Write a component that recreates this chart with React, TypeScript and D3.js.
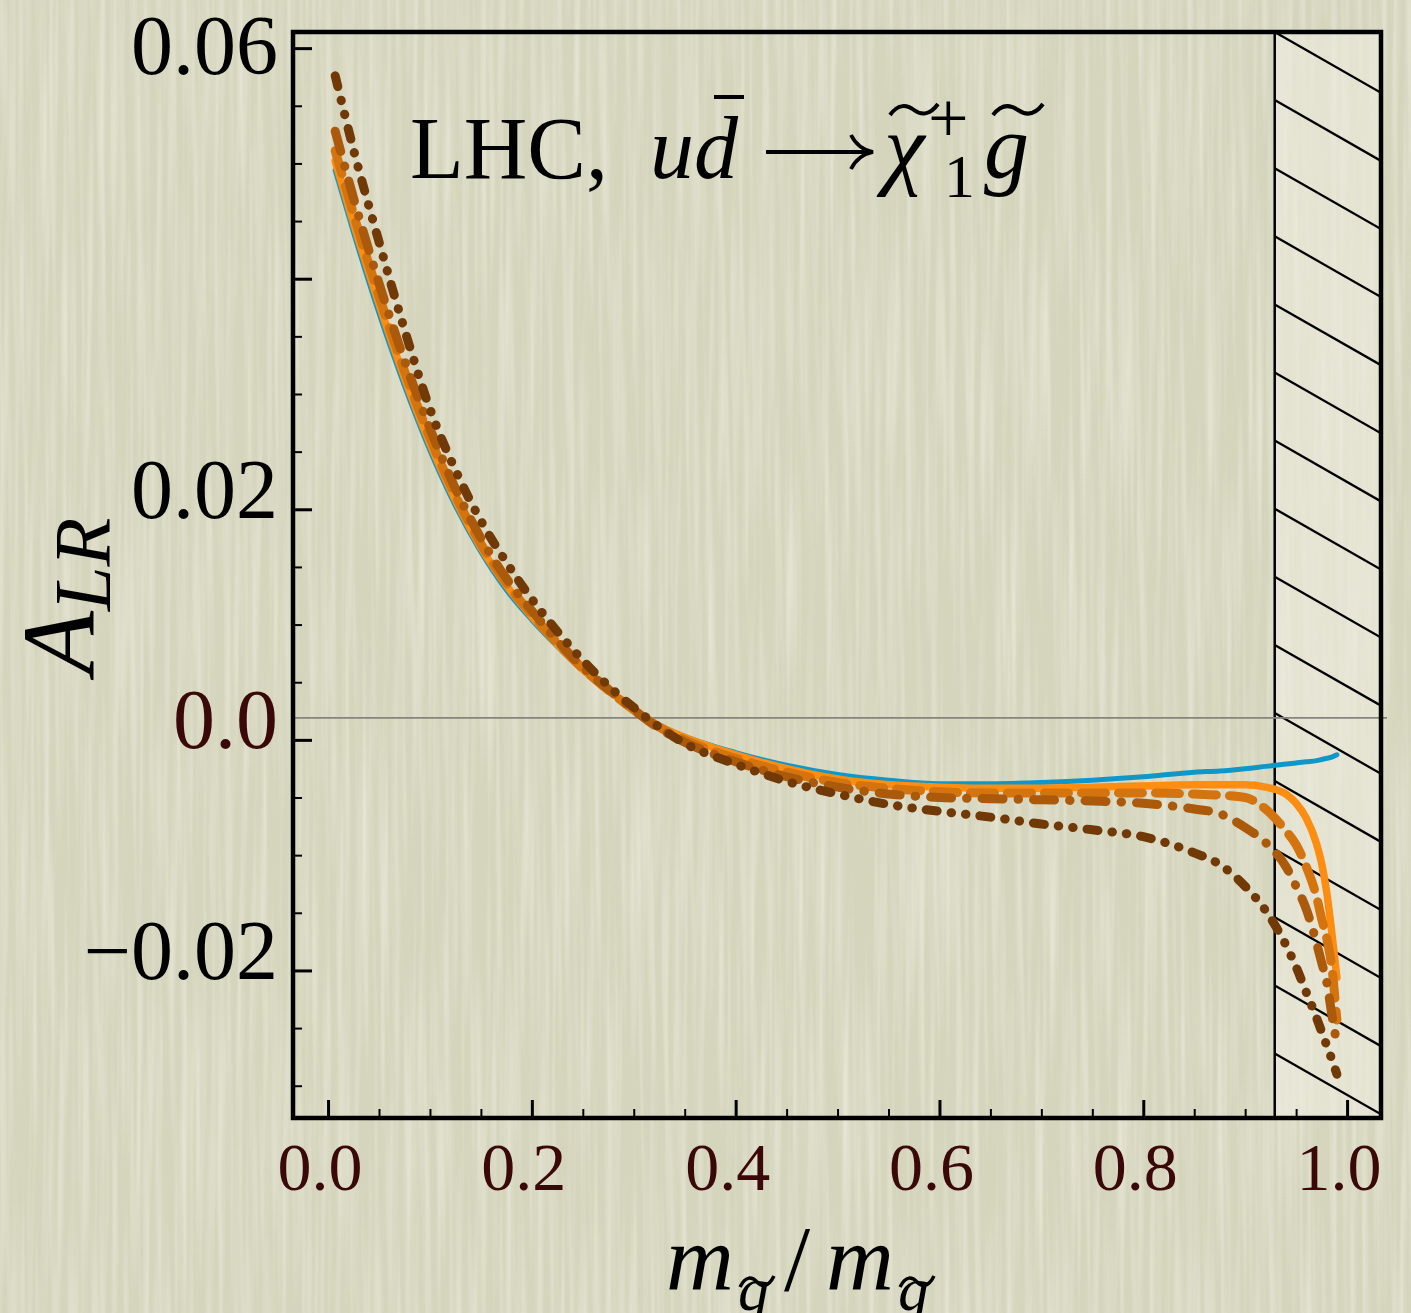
import { useEffect, useRef } from "react";
import * as d3 from "d3";

// m_squark / m_gluino
const massRatio = [
  0.007, 0.025, 0.05, 0.075, 0.1, 0.125, 0.15, 0.175, 0.2, 0.225, 0.25, 0.275,
  0.3, 0.325, 0.35, 0.4, 0.45, 0.5, 0.55, 0.6, 0.65, 0.7, 0.75, 0.8, 0.85,
  0.875, 0.9, 0.92, 0.94, 0.95, 0.96, 0.97, 0.975, 0.98, 0.985, 0.99,
];

// A_LR for the five curves
const alrBlue = [
  0.0494, 0.044, 0.037, 0.0307, 0.0251, 0.0203, 0.0163, 0.013, 0.0104, 0.0081,
  0.006, 0.0042, 0.0026, 0.0013, 0.0003, -0.0011, -0.0022, -0.003, -0.0035,
  -0.0038, -0.0038, -0.0037, -0.0035, -0.0032, -0.0028, -0.0027, -0.0025,
  -0.0023, -0.0021, -0.002, -0.0019, -0.0018, -0.0017, -0.0016, -0.0015, -0.0013,
];
const alrOrange = [
  0.0502, 0.0448, 0.0378, 0.0314, 0.0257, 0.0208, 0.0167, 0.0134, 0.0107,
  0.0083, 0.0061, 0.0043, 0.0026, 0.0012, 0.0002, -0.0013, -0.0025, -0.0034,
  -0.0039, -0.0041, -0.0042, -0.0042, -0.0041, -0.004, -0.0039, -0.0039,
  -0.0039, -0.0041, -0.0047, -0.0055, -0.0068, -0.009, -0.0107, -0.0132,
  -0.0167, -0.0206,
];
const alrDashed = [
  0.0511, 0.0456, 0.0385, 0.032, 0.0262, 0.0212, 0.017, 0.0136, 0.0109, 0.0084,
  0.0062, 0.0043, 0.0026, 0.0011, 0.0, -0.0016, -0.0028, -0.0037, -0.0042,
  -0.0045, -0.0046, -0.0046, -0.0046, -0.0046, -0.0047, -0.0048, -0.005,
  -0.006, -0.0079, -0.0091, -0.011, -0.0136, -0.0155, -0.0172, -0.0197, -0.0243,
];
const alrDashDot = [
  0.0528, 0.047, 0.0396, 0.0329, 0.027, 0.0218, 0.0175, 0.014, 0.0112, 0.0086,
  0.0063, 0.0044, 0.0026, 0.001, -0.0002, -0.0019, -0.0032, -0.0041, -0.0047,
  -0.005, -0.0051, -0.0052, -0.0053, -0.0055, -0.006, -0.0064, -0.0076,
  -0.0089, -0.011, -0.0127, -0.0147, -0.0176, -0.0193, -0.021, -0.0238, -0.0264,
];
const alrDashDotDot = [
  0.0576, 0.0512, 0.0432, 0.0356, 0.0287, 0.0234, 0.019, 0.0154, 0.0122,
  0.0094, 0.0069, 0.0047, 0.0028, 0.0011, -0.0003, -0.0021, -0.0036, -0.0047,
  -0.0056, -0.0062, -0.0067, -0.0073, -0.0078, -0.0084, -0.0098, -0.0108,
  -0.0127, -0.0148, -0.0178, -0.0197, -0.0219, -0.0241, -0.0253, -0.0265,
  -0.0277, -0.029,
];

const xMajorTicks = [0, 0.2, 0.4, 0.6, 0.8, 1.0];
const xTickLabels = ["0.0", "0.2", "0.4", "0.6", "0.8", "1.0"];
const yMajorTicks = [0.06, 0.04, 0.02, 0.0, -0.02];
const yLabelValues = [0.06, 0.02, 0.0, -0.02];
const yTickLabels = ["0.06", "0.02", "0.0", "\u22120.02"];

const excludedFrom = 0.929; // hatched region start
const referenceLevel = 0.0019; // thin grey line

export default function App() {
  const width = 1411;
  const height = 1313;
  const marginLeft = 293;
  const marginRight = 30;
  const marginTop = 32;
  const marginBottom = 195;
  const ref = useRef<SVGSVGElement>(null);

  useEffect(() => {
    const svg = d3.select(ref.current);
    svg.selectAll("*").remove();

    const right = width - marginRight;
    const bottom = height - marginBottom;
    const serif = "'Liberation Serif', 'Times New Roman', serif";

    const x = d3.scaleLinear().domain([-0.0344, 1.0333]).range([marginLeft, right]);
    const y = d3.scaleLinear().domain([-0.0328, 0.0614]).range([bottom, marginTop]);

    const defs = svg.append("defs");
    const filter = defs
      .append("filter")
      .attr("id", "paper")
      .attr("x", 0)
      .attr("y", 0)
      .attr("width", 1)
      .attr("height", 1);
    filter
      .append("feTurbulence")
      .attr("type", "fractalNoise")
      .attr("baseFrequency", "0.16 0.004")
      .attr("numOctaves", 2)
      .attr("seed", 7);
    filter
      .append("feColorMatrix")
      .attr("type", "matrix")
      .attr("values", "0 0 0 0 0.93  0 0 0 0 0.93  0 0 0 0 0.86  1.3 0 0 0 -0.5");

    defs
      .append("clipPath")
      .attr("id", "hatch-clip")
      .append("rect")
      .attr("x", x(excludedFrom))
      .attr("y", marginTop)
      .attr("width", right - x(excludedFrom))
      .attr("height", bottom - marginTop);

    // paper background
    svg.append("rect").attr("width", width).attr("height", height).attr("fill", "#d5d4bc");
    svg
      .append("rect")
      .attr("width", width)
      .attr("height", height)
      .attr("filter", "url(#paper)")
      .attr("opacity", 0.75);

    // excluded region
    const hx = x(excludedFrom);
    svg
      .append("rect")
      .attr("x", hx)
      .attr("y", marginTop)
      .attr("width", right - hx)
      .attr("height", bottom - marginTop)
      .attr("fill", "#eeeddf")
      .attr("opacity", 0.6);
    const step = 68.1;
    const drop = (right - hx) * 0.572;
    svg
      .append("g")
      .attr("clip-path", "url(#hatch-clip)")
      .selectAll("line")
      .data(d3.range(-2, 18))
      .join("line")
      .attr("x1", hx)
      .attr("y1", (k) => marginTop + k * step)
      .attr("x2", right)
      .attr("y2", (k) => marginTop + k * step + drop)
      .attr("stroke", "#000")
      .attr("stroke-width", 2.3);
    svg
      .append("line")
      .attr("x1", hx)
      .attr("x2", hx)
      .attr("y1", marginTop)
      .attr("y2", bottom)
      .attr("stroke", "#000")
      .attr("stroke-width", 2.5);

    // grey reference line
    svg
      .append("line")
      .attr("x1", marginLeft)
      .attr("x2", right + 6)
      .attr("y1", y(referenceLevel))
      .attr("y2", y(referenceLevel))
      .attr("stroke", "#858580")
      .attr("stroke-width", 1.7);

    // ticks
    const yMinor = d3.range(-0.03, 0.0601, 0.005).filter(
      (v) => !yMajorTicks.some((m) => Math.abs(m - v) < 1e-6)
    );
    const xMinor = d3.range(0.05, 1.0, 0.05).filter(
      (v) => !xMajorTicks.some((m) => Math.abs(m - v) < 1e-6)
    );

    const tickAxis = (g, axis) => {
      g.call(axis);
      g.select(".domain").remove();
      g.selectAll("text").remove();
      return g;
    };

    tickAxis(
      svg.append("g").attr("transform", `translate(${marginLeft},0)`),
      d3.axisRight(y).tickValues(yMinor).tickSize(9)
    ).selectAll("line").attr("stroke-width", 2);
    tickAxis(
      svg.append("g").attr("transform", `translate(${marginLeft},0)`),
      d3.axisRight(y).tickValues(yMajorTicks).tickSize(19)
    ).selectAll("line").attr("stroke-width", 3);
    tickAxis(
      svg.append("g").attr("transform", `translate(0,${bottom})`),
      d3.axisTop(x).tickValues(xMinor).tickSize(9)
    ).selectAll("line").attr("stroke-width", 2);
    tickAxis(
      svg.append("g").attr("transform", `translate(0,${bottom})`),
      d3.axisTop(x).tickValues(xMajorTicks).tickSize(18)
    ).selectAll("line").attr("stroke-width", 3);

    // frame
    svg
      .append("rect")
      .attr("x", marginLeft)
      .attr("y", marginTop)
      .attr("width", right - marginLeft)
      .attr("height", bottom - marginTop)
      .attr("fill", "none")
      .attr("stroke", "#000")
      .attr("stroke-width", 4.5);

    // tick labels
    svg
      .append("g")
      .selectAll("text")
      .data(yLabelValues)
      .join("text")
      .attr("x", 278)
      .attr("y", (v) => (v === 0.06 ? y(v) - 4 : y(v) - 22))
      .attr("dy", "0.36em")
      .attr("text-anchor", "end")
      .attr("font-family", serif)
      .attr("font-size", 84)
      .attr("fill", (v) => (v === 0 ? "#3a0808" : "#000"))
      .text((v, i) => yTickLabels[i]);

    svg
      .append("g")
      .selectAll("text")
      .data(xMajorTicks)
      .join("text")
      .attr("x", (v) => x(v) - 8)
      .attr("y", 1190)
      .attr("text-anchor", "middle")
      .attr("font-family", serif)
      .attr("font-size", 68)
      .attr("fill", "#3a0808")
      .text((v, i) => xTickLabels[i]);

    // curves
    const line = d3
      .line<number>()
      .x((d, i) => x(massRatio[i]))
      .y((d) => y(d))
      .curve(d3.curveMonotoneX);

    const series = [
      { values: alrBlue, color: "#1097c9", width: 5, dash: null },
      { values: alrOrange, color: "#ff8d12", width: 7.5, dash: null },
      { values: alrDashed, color: "#d4740f", width: 9, dash: "24 13" },
      { values: alrDashDot, color: "#ab5a0b", width: 9, dash: "21 15 0.5 15" },
      { values: alrDashDotDot, color: "#713905", width: 9, dash: "11 14 0.5 14 0.5 14" },
    ];
    svg
      .append("g")
      .attr("fill", "none")
      .attr("stroke-linecap", "round")
      .attr("stroke-linejoin", "round")
      .selectAll("path")
      .data(series)
      .join("path")
      .attr("d", (s) => line(s.values))
      .attr("stroke", (s) => s.color)
      .attr("stroke-width", (s) => s.width)
      .attr("stroke-dasharray", (s) => s.dash);

    // title: LHC, u dbar -> chi1+ gluino
    const tilde = (x0, y0, w) =>
      `M${x0},${y0 + 5} C${x0 + w * 0.18},${y0 - 7} ${x0 + w * 0.36},${y0 - 5} ${x0 + w * 0.5},${y0} S${x0 + w * 0.82},${y0 + 6} ${x0 + w},${y0 - 6}`;

    const title = svg.append("g").attr("font-family", serif).attr("fill", "#000");
    title.append("text").attr("x", 410).attr("y", 178).attr("font-size", 88).text("LHC,");
    title
      .append("text")
      .attr("x", 650)
      .attr("y", 178)
      .attr("font-size", 88)
      .attr("font-style", "italic")
      .text("ud");
    title
      .append("line")
      .attr("x1", 714)
      .attr("x2", 744)
      .attr("y1", 97)
      .attr("y2", 97)
      .attr("stroke", "#000")
      .attr("stroke-width", 4);
    title
      .append("path")
      .attr("d", "M766,152 H870 M851,135 Q858,149 873,152 Q858,155 851,169")
      .attr("fill", "none")
      .attr("stroke", "#000")
      .attr("stroke-width", 3.8);
    title
      .append("text")
      .attr("x", 884)
      .attr("y", 178)
      .attr("font-size", 92)
      .attr("font-style", "italic")
      .text("\u03c7");
    title
      .append("path")
      .attr("d", tilde(890, 110, 48))
      .attr("fill", "none")
      .attr("stroke", "#000")
      .attr("stroke-width", 4);
    title.append("text").attr("x", 928).attr("y", 142).attr("font-size", 72).text("+");
    title.append("text").attr("x", 944).attr("y", 197).attr("font-size", 62).text("1");
    title
      .append("text")
      .attr("x", 984)
      .attr("y", 178)
      .attr("font-size", 90)
      .attr("font-style", "italic")
      .text("g");
    title
      .append("path")
      .attr("d", tilde(993, 110, 50))
      .attr("fill", "none")
      .attr("stroke", "#000")
      .attr("stroke-width", 4);

    // y label: A_LR
    svg
      .append("text")
      .attr("transform", "translate(94,596) rotate(-90)")
      .attr("text-anchor", "middle")
      .attr("font-family", serif)
      .attr("font-style", "italic")
      .call((t) => {
        t.append("tspan").attr("font-size", 104).text("A");
        t.append("tspan").attr("font-size", 80).attr("dy", 16).text("LR");
      });

    // x label: m_q / m_g
    const xl = svg.append("g").attr("font-family", serif).attr("fill", "#000");
    xl.append("text").attr("x", 666).attr("y", 1290).attr("font-size", 94).attr("font-style", "italic").text("m");
    xl.append("text").attr("x", 738).attr("y", 1310).attr("font-size", 62).attr("font-style", "italic").text("q");
    xl.append("path").attr("d", tilde(740, 1282, 34)).attr("fill", "none").attr("stroke", "#000").attr("stroke-width", 3.5);
    xl.append("text").attr("x", 784).attr("y", 1290).attr("font-size", 94).text("/");
    xl.append("text").attr("x", 826).attr("y", 1290).attr("font-size", 94).attr("font-style", "italic").text("m");
    xl.append("text").attr("x", 898).attr("y", 1310).attr("font-size", 62).attr("font-style", "italic").text("g");
    xl.append("path").attr("d", tilde(900, 1282, 34)).attr("fill", "none").attr("stroke", "#000").attr("stroke-width", 3.5);
  }, []);

  return (
    <svg
      ref={ref}
      width={width}
      height={height}
      viewBox={`0 0 ${width} ${height}`}
      style={{ position: "absolute", left: 0, top: 0, display: "block" }}
    />
  );
}
